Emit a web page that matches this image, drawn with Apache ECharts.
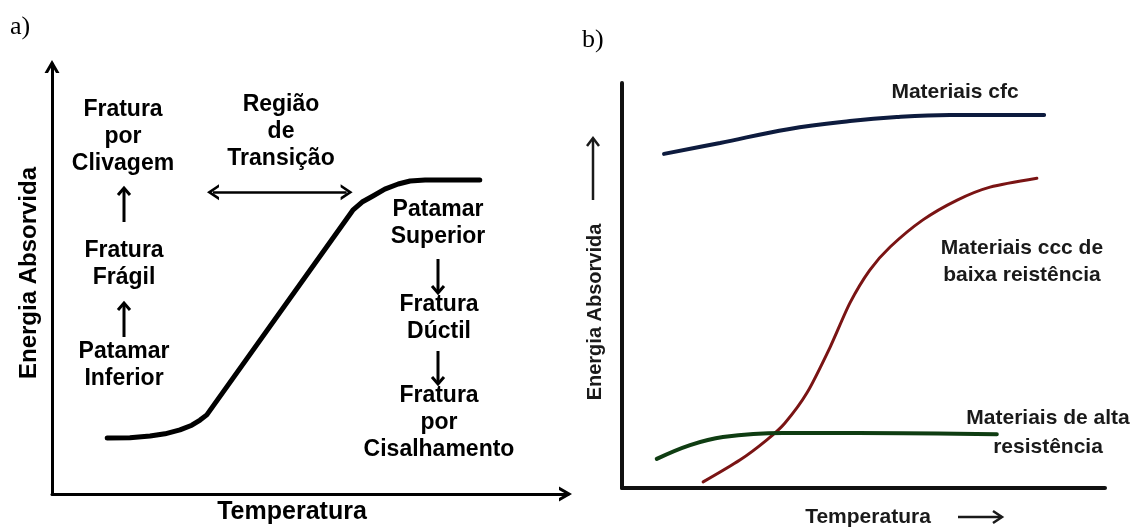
<!DOCTYPE html>
<html><head><meta charset="utf-8">
<script src="https://cdn.jsdelivr.net/npm/echarts@6/dist/echarts.min.js"></script>
<style>html,body{margin:0;padding:0;background:#fff}#c{width:1139px;height:532px}</style>
</head><body><div id="c"></div>
<script>
// ---------- Panel a: ductile-brittle transition curve (arbitrary units 0-100) ----------
const aTemp   = [10.7, 15.1, 19.0, 21.9, 24.8, 27.1, 28.7, 30.0, 58.3, 60.1, 62.2, 64.5, 67.1, 69.4, 72.3, 82.9];
const aEnergy = [13.0, 13.1, 13.5, 14.0, 14.9, 16.0, 17.2, 18.4, 66.0, 67.9, 69.3, 70.9, 72.1, 72.8, 73.0, 73.0];
const aRegion = [30.0, 58.3];       // transition region limits (temperature)
const aRegionArrowLevel = 70.2;     // energy level of the double arrow
const aDashTop = 101.4;

// ---------- Panel b: three material classes ----------
const bCfcT  = [8.7, 20.3, 34.4, 47.2, 56.9, 67.9, 87.4];
const bCfcE  = [82.5, 85.2, 88.6, 90.6, 91.6, 92.1, 92.1];
const bCccT  = [16.8, 24.4, 30.0, 33.7, 38.3, 43.1, 47.2, 51.3, 55.5, 62.3, 69.4, 76.2, 85.9];
const bCccE  = [1.5, 6.9, 11.9, 16.0, 23.5, 34.8, 45.7, 53.8, 59.5, 66.2, 71.1, 74.3, 76.5];
const bHighT = [7.2, 14.1, 20.9, 33.3, 48.7, 77.6];
const bHighE = [7.2, 10.6, 12.6, 13.6, 13.6, 13.3];

const zip = (xs, ys) => xs.map((x, i) => [x, ys[i]]);

function chevron(w, h, t) {
  const len = Math.hypot(w / 2, h);
  const d = t * len / h;
  const iy = 2 * h * d / w;
  return 'path://M0,' + h + ' L' + (w / 2) + ',0 L' + w + ',' + h + ' L' + (w - d) + ',' + h +
         ' L' + (w / 2) + ',' + iy + ' L' + d + ',' + h + ' Z';
}
const axisChev = chevron(15, 13, 3);
const dblChev = chevron(16, 12, 2.6);

const SANS = '"Liberation Sans", Arial, sans-serif';
const SERIF = '"Liberation Serif", "Times New Roman", serif';

function txt(x, y, text, font, opts) {
  opts = opts || {};
  return {
    type: 'text', x: x, y: y, rotation: opts.rotation || 0, silent: true,
    style: {
      text: text, font: font, fill: opts.color || '#000',
      textAlign: opts.align || 'center', textVerticalAlign: 'middle',
      lineHeight: opts.lineHeight || 27
    }
  };
}
function arrowEls(x1, y1, x2, y2, hw, hl, lw, color) {
  const dx = x2 - x1, dy = y2 - y1, L = Math.hypot(dx, dy), ux = dx / L, uy = dy / L, px = -uy, py = ux;
  const bx = x2 - ux * hl, by = y2 - uy * hl;
  return [
    { type: 'line', silent: true, shape: { x1: x1, y1: y1, x2: x2 - ux * 0.5, y2: y2 - uy * 0.5 }, style: { stroke: color, lineWidth: lw } },
    { type: 'polyline', silent: true, shape: { points: [[bx + px * hw / 2, by + py * hw / 2], [x2, y2], [bx - px * hw / 2, by - py * hw / 2]] },
      style: { stroke: color, lineWidth: lw, fill: null, lineJoin: 'miter' } }
  ];
}

function valAxis(grid, opts) {
  return Object.assign({
    gridIndex: grid, type: 'value', min: 0, max: 100,
    axisTick: { show: false }, axisLabel: { show: false }, splitLine: { show: false }
  }, opts);
}

const aAxisLine = { onZero: false, lineStyle: { color: '#000', width: 3 }, symbol: ['none', axisChev], symbolSize: [15, 13], symbolOffset: [0, -2.5] };
const bAxisLine = { onZero: false, lineStyle: { color: '#111', width: 4 } };

const bCol = '#1a1a1a';
const bFont = 'bold 21px ' + SANS;
const aFont = 'bold 23px ' + SANS;

const graphics = [
  txt(10, 27, 'a)', '26px ' + SERIF, { align: 'left' }),
  txt(29, 273, 'Energia Absorvida', 'bold 24px ' + SANS, { rotation: Math.PI / 2 }),
  txt(292, 512, 'Temperatura', 'bold 25px ' + SANS),
  txt(123, 137, 'Fratura\npor\nClivagem', aFont),
  txt(124, 264, 'Fratura\nFrágil', aFont),
  txt(124, 365, 'Patamar\nInferior', aFont),
  txt(281, 132, 'Região\nde\nTransição', aFont),
  txt(438, 223, 'Patamar\nSuperior', aFont),
  txt(439, 318, 'Fratura\nDúctil', aFont),
  txt(439, 423, 'Fratura\npor\nCisalhamento', aFont),
  txt(582, 40, 'b)', '26px ' + SERIF, { align: 'left' }),
  txt(955, 92, 'Materiais cfc', bFont, { color: bCol }),
  txt(1022, 262, 'Materiais ccc de\nbaixa reistência', bFont, { color: bCol, lineHeight: 27 }),
  txt(1048, 433, 'Materiais de alta\nresistência', bFont, { color: bCol, lineHeight: 29 }),
  txt(595, 312, 'Energia Absorvida', 'bold 20px ' + SANS, { rotation: Math.PI / 2, color: bCol }),
  txt(868, 517, 'Temperatura', bFont, { color: bCol })
].concat(
  arrowEls(124, 222, 124, 188, 12, 7, 3, '#000'),
  arrowEls(124, 337, 124, 303, 12, 7, 3, '#000'),
  arrowEls(438, 259, 438, 293, 12, 7, 3, '#000'),
  arrowEls(438, 351, 438, 384, 12, 7, 3, '#000'),
  arrowEls(593, 200, 593, 138, 12, 8, 2.5, bCol),
  arrowEls(958, 517, 1002, 517, 12, 9, 2.5, bCol)
);

const option = {
  animation: false,
  backgroundColor: '#fff',
  grid: [
    { left: 52, top: 64, width: 516, height: 430 },
    { left: 622, top: 83, width: 483, height: 405 }
  ],
  xAxis: [valAxis(0, { axisLine: aAxisLine }), valAxis(1, { axisLine: bAxisLine })],
  yAxis: [valAxis(0, { axisLine: aAxisLine }), valAxis(1, { axisLine: bAxisLine })],
  series: [
    {
      name: 'Transição', type: 'line', xAxisIndex: 0, yAxisIndex: 0, clip: false,
      data: zip(aTemp, aEnergy), symbol: 'none', smooth: false,
      lineStyle: { color: '#000', width: 5, cap: 'round', join: 'round' },
      markLine: {
        silent: true, symbol: 'none', label: { show: false },
        lineStyle: { color: '#000', width: 2, type: [7, 5] },
        data: aRegion.map(x => [{ coord: [x, 0] }, { coord: [x, aDashTop] }])
      }
    },
    {
      name: 'Região de transição', type: 'line', xAxisIndex: 0, yAxisIndex: 0, clip: false,
      data: [], symbol: 'none',
      markLine: {
        silent: true, symbol: [dblChev, dblChev], symbolSize: [16, 12], label: { show: false },
        lineStyle: { color: '#000', width: 2.6, type: 'solid' },
        data: [[{ coord: [aRegion[0] + 1.2, aRegionArrowLevel] }, { coord: [aRegion[1] - 1.2, aRegionArrowLevel] }]]
      }
    },
    {
      name: 'Materiais cfc', type: 'line', xAxisIndex: 1, yAxisIndex: 1,
      data: zip(bCfcT, bCfcE), symbol: 'none', smooth: 0.4,
      lineStyle: { color: '#0d1b3e', width: 4, cap: 'round' }
    },
    {
      name: 'Materiais ccc de baixa resistência', type: 'line', xAxisIndex: 1, yAxisIndex: 1,
      data: zip(bCccT, bCccE), symbol: 'none', smooth: 0.25,
      lineStyle: { color: '#7a1414', width: 3, cap: 'round' }
    },
    {
      name: 'Materiais de alta resistência', type: 'line', xAxisIndex: 1, yAxisIndex: 1,
      data: zip(bHighT, bHighE), symbol: 'none', smooth: 0.4,
      lineStyle: { color: '#0f3d12', width: 4, cap: 'round' }
    }
  ],
  graphic: graphics
};

const chart = echarts.init(document.getElementById('c'), null, { renderer: 'canvas' });
chart.setOption(option);
</script>
</body></html>
